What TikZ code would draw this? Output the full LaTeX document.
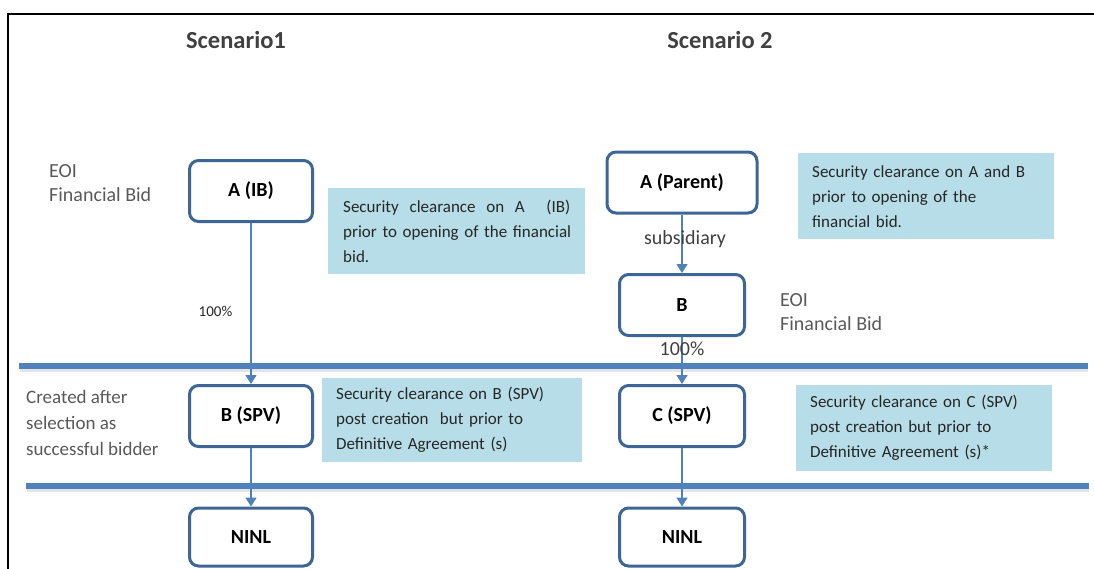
\documentclass[tikz,border=0pt]{standalone}
\usepackage{fontspec}
\setmainfont{Carlito}
\usetikzlibrary{arrows.meta}
\definecolor{boxblue}{HTML}{3D6595}
\definecolor{lineblue}{HTML}{4F81BD}
\definecolor{aqua}{HTML}{B7DEE8}
\definecolor{txtgray}{HTML}{595959}
\definecolor{titlegray}{HTML}{404040}
\definecolor{notetext}{HTML}{262626}
\begin{document}
\begin{tikzpicture}[x=1pt,y=-1pt,
  entity/.style={draw=boxblue, line width=3pt, rounded corners=9pt, fill=white,
    font=\fontsize{20}{24}\selectfont\bfseries, text=black,
    minimum width=123pt, minimum height=61pt, inner sep=0pt},
  note/.style={fill=aqua, draw=none, anchor=north west, align=left, inner ysep=0pt,
    font=\fontsize{17}{25}\selectfont, text=notetext},
  side/.style={align=left, inner sep=0pt, anchor=west, text=txtgray,
    font=\fontsize{20}{24}\selectfont},
  title/.style={inner sep=0pt, text=titlegray, font=\fontsize{24.5}{29}\selectfont\bfseries},
  conn/.style={draw=lineblue, line width=1.5pt, -{Triangle[width=11pt,length=9pt]}},
  sep/.style={draw=lineblue, line width=5.5pt},
  sepshadow/.style={draw=black!30, line width=4pt, opacity=0.35},
  lbl/.style={inner sep=0pt, text=titlegray, font=\fontsize{20}{24}\selectfont}
]
\useasboundingbox (0,0) rectangle (1094,568);
% frame
\draw[black, line width=2pt] (8.4,569) -- (8.4,14) -- (1095,14);
% separators
\draw[sepshadow] (20,369.5) -- (1088,369.5);
\draw[sep] (19,366) -- (1088,366);
\draw[sepshadow] (27,489.5) -- (1089,489.5);
\draw[sep] (26,486) -- (1089,486);
% titles
\node[title] (t1) at (236,40) {Scenario1};
\node[title] (t2) at (720,40) {Scenario 2};
% side labels
\node[side] (s1) at (49,183) {EOI\\Financial Bid};
\node[side] (s2) at (780,312) {EOI\\Financial Bid};
\node[side, font=\fontsize{19}{26}\selectfont] (s3) at (26,423) {Created after\\selection as\\successful bidder};
% scenario 1 boxes
\node[entity] (aib) at (251,191) {A (IB)};
\node[entity] (bspv) at (251,416) {B (SPV)};
\node[entity, minimum height=58pt] (ninl1) at (251,537) {NINL};
% scenario 2 boxes
\node[entity, minimum width=150pt] (apar) at (682,182.5) {A (Parent)};
\node[entity, minimum width=125pt] (b) at (682,305) {B};
\node[entity, minimum width=125pt] (cspv) at (682,416) {C (SPV)};
\node[entity, minimum width=125pt, minimum height=58pt] (ninl2) at (682,537) {NINL};
% notes
\node[note, inner xsep=15pt, text width=227pt, minimum height=86pt] (n1) at (328,188)
  {\hbox to 227pt{Security\hfill clearance\hfill on\hfill A\hfill\hfill(IB)}\\\mbox{prior to opening of the financial}\\bid.};
\node[note, inner xsep=14pt, text width=228pt, minimum height=86pt] (n2) at (798,153)
  {Security clearance on A and B\\prior to opening of the\\financial bid.};
\node[note, inner xsep=14pt, text width=232pt, minimum height=84pt] (n3) at (322,378)
  {Security clearance on B (SPV)\\post creation\ \ but prior to\\Definitive Agreement (s)};
\node[note, inner xsep=14pt, text width=228pt, minimum height=86pt] (n4) at (796,385)
  {Security clearance on C (SPV)\\post creation but prior to\\Definitive Agreement (s)*};
% connectors
\draw[conn] (aib.south) -- node[pos=0.55, anchor=east, xshift=-18pt, inner sep=0pt, font=\fontsize{15}{18}\selectfont, text=notetext] {100\%} (bspv.north);
\draw[conn] (bspv.south) -- (ninl1.north);
\draw[conn] (apar.south) -- node[lbl, pos=0.43, xshift=3pt] {subsidiary} (b.north);
\draw[conn] (b.south) -- node[lbl, pos=0.25] {100\%} (cspv.north);
\draw[conn] (cspv.south) -- (ninl2.north);
\end{tikzpicture}
\end{document}
